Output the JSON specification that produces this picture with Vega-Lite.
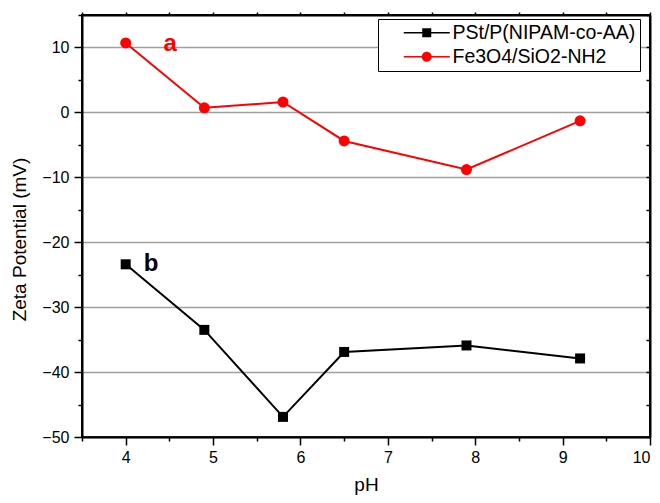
{
  "$schema": "https://vega.github.io/schema/vega-lite/v6.json",
  "width": 568,
  "height": 422,
  "autosize": {"type": "none"},
  "padding": {"left": 82, "top": 15, "right": 10, "bottom": 66},
  "background": "white",
  "config": {
    "font": "Liberation Sans",
    "view": {"stroke": "black", "strokeWidth": 2},
    "axis": {"domainColor": "black", "domainWidth": 2, "tickColor": "black", "tickWidth": 1.5, "labelColor": "black", "titleColor": "black", "labelFont": "Liberation Sans", "titleFont": "Liberation Sans", "titleFontWeight": "normal", "labelFontSize": 16, "titleFontSize": 19},
    "legend": {"orient": "none", "legendX": 296, "legendY": 4, "padding": 4, "rowPadding": 3, "symbolSize": 100, "symbolOffset": 35, "labelOffset": 16, "labelFontSize": 19.5, "labelLimit": 400, "labelFont": "Liberation Sans", "labelColor": "black", "strokeColor": "black", "fillColor": "white", "symbolStrokeWidth": 0, "symbolOpacity": 1}
  },
  "data": {
    "values": [
      {"series": "PSt/P(NIPAM-co-AA)", "pH": 4.0, "zeta": -23.4},
      {"series": "PSt/P(NIPAM-co-AA)", "pH": 4.9, "zeta": -33.5},
      {"series": "PSt/P(NIPAM-co-AA)", "pH": 5.8, "zeta": -46.9},
      {"series": "PSt/P(NIPAM-co-AA)", "pH": 6.5, "zeta": -36.9},
      {"series": "PSt/P(NIPAM-co-AA)", "pH": 7.9, "zeta": -35.9},
      {"series": "PSt/P(NIPAM-co-AA)", "pH": 9.2, "zeta": -37.9},
      {"series": "Fe3O4/SiO2-NH2", "pH": 4.0, "zeta": 10.7},
      {"series": "Fe3O4/SiO2-NH2", "pH": 4.9, "zeta": 0.7},
      {"series": "Fe3O4/SiO2-NH2", "pH": 5.8, "zeta": 1.6},
      {"series": "Fe3O4/SiO2-NH2", "pH": 6.5, "zeta": -4.4},
      {"series": "Fe3O4/SiO2-NH2", "pH": 7.9, "zeta": -8.8},
      {"series": "Fe3O4/SiO2-NH2", "pH": 9.2, "zeta": -1.3}
    ]
  },
  "resolve": {"axis": {"x": "independent", "y": "independent"}},
  "layer": [
    {
      "mark": {"type": "line", "strokeWidth": 2},
      "encoding": {
        "x": {"field": "pH", "type": "quantitative", "scale": {"domain": [3.5, 10], "nice": false, "zero": false},
          "axis": {"title": "pH", "values": [3.5,4,4.5,5,5.5,6,6.5,7,7.5,8,8.5,9,9.5,10], "labelExpr": "datum.value % 1 === 0 ? format(datum.value, 'd') : ''", "grid": false, "tickSize": {"condition": {"test": "datum.value % 1 === 0", "value": 8}, "value": 4}, "labelPadding": 4, "titlePadding": 10}},
        "y": {"field": "zeta", "type": "quantitative", "scale": {"domain": [-50, 15], "nice": false, "zero": false},
          "axis": {"title": "Zeta Potential (mV)", "titleY": 224, "values": [-50,-45,-40,-35,-30,-25,-20,-15,-10,-5,0,5,10,15], "labelExpr": "datum.value % 10 === 0 ? datum.label : ''", "grid": true, "gridColor": "#a0a0a0", "gridWidth": 1.5, "gridOpacity": {"condition": {"test": "datum.value % 10 === 0", "value": 1}, "value": 0}, "tickSize": {"condition": {"test": "datum.value % 10 === 0", "value": 8}, "value": 4}, "labelPadding": 5, "titlePadding": 12}},
        "color": {"field": "series", "type": "nominal", "title": null, "scale": {"domain": ["PSt/P(NIPAM-co-AA)", "Fe3O4/SiO2-NH2"], "range": ["#000000", "#ff0000"]}}
      }
    },
    {
      "transform": [{"filter": "datum.series === 'PSt/P(NIPAM-co-AA)'"}],
      "mark": {"type": "point", "filled": true, "opacity": 1, "shape": "square", "size": 100},
      "encoding": {
        "x": {"field": "pH", "type": "quantitative", "axis": null},
        "y": {"field": "zeta", "type": "quantitative", "axis": null},
        "color": {"field": "series", "type": "nominal", "title": null}
      }
    },
    {
      "transform": [{"filter": "datum.series === 'Fe3O4/SiO2-NH2'"}],
      "mark": {"type": "point", "filled": true, "opacity": 1, "shape": "circle", "size": 121},
      "encoding": {
        "x": {"field": "pH", "type": "quantitative", "axis": null},
        "y": {"field": "zeta", "type": "quantitative", "axis": null},
        "color": {"field": "series", "type": "nominal", "title": null}
      }
    },
    {
      "mark": {"type": "point", "filled": true, "opacity": 0},
      "encoding": {
        "x": {"field": "pH", "type": "quantitative", "axis": null},
        "y": {"field": "zeta", "type": "quantitative", "axis": null},
        "color": {"field": "series", "type": "nominal", "title": null},
        "shape": {"field": "series", "type": "nominal", "title": null, "scale": {"domain": ["PSt/P(NIPAM-co-AA)", "Fe3O4/SiO2-NH2"], "range": ["M-4.6,-0.15L-0.9,-0.15L-0.9,0.15L-4.6,0.15ZM0.9,-0.15L4.6,-0.15L4.6,0.15L0.9,0.15ZM-0.9,-0.9L0.9,-0.9L0.9,0.9L-0.9,0.9Z", "M-4.6,-0.15L-0.9,-0.15L-0.9,0.15L-4.6,0.15ZM0.9,-0.15L4.6,-0.15L4.6,0.15L0.9,0.15ZM-1,0A1,1,0,1,1,1,0A1,1,0,1,1,-1,0Z"]}}
      }
    },
    {
      "data": {"values": [
        {"series": "Fe3O4/SiO2-NH2", "pH": 4.51, "zeta": 10.6, "label": "a"},
        {"series": "PSt/P(NIPAM-co-AA)", "pH": 4.29, "zeta": -23.3, "label": "b"}
      ]},
      "mark": {"type": "text", "fontWeight": "bold", "fontSize": 24, "align": "center", "baseline": "middle", "font": "Liberation Sans"},
      "encoding": {
        "x": {"field": "pH", "type": "quantitative", "axis": null},
        "y": {"field": "zeta", "type": "quantitative", "axis": null},
        "text": {"field": "label"},
        "color": {"field": "series", "type": "nominal", "title": null}
      }
    },
    {
      "mark": {"type": "point", "opacity": 0},
      "encoding": {
        "x": {"field": "pH", "type": "quantitative",
          "axis": {"orient": "top", "title": null, "labels": false, "values": [3.5,4,4.5,5,5.5,6,6.5,7,7.5,8,8.5,9,9.5,10], "tickSize": 3, "grid": false}},
        "y": {"field": "zeta", "type": "quantitative",
          "axis": {"orient": "right", "title": null, "labels": false, "values": [-50,-45,-40,-35,-30,-25,-20,-15,-10,-5,0,5,10,15], "tickSize": -4, "grid": false}}
      }
    }
  ]
}
